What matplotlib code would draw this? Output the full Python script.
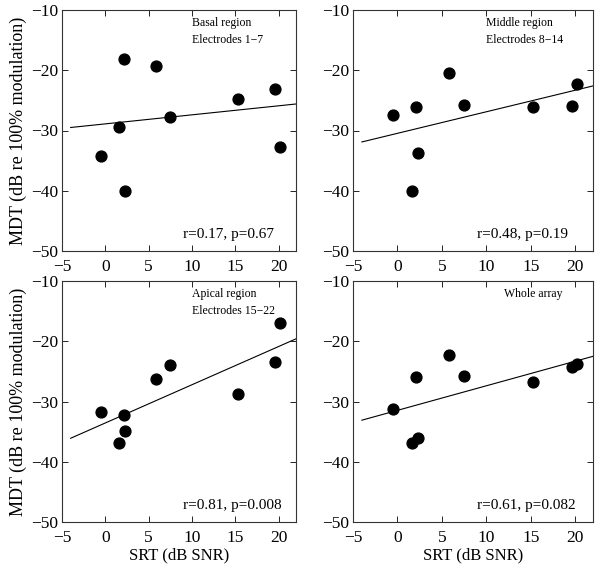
"""
MDT vs SRT scatter for four electrode regions, with linear fits.
"""
import matplotlib.pyplot as plt

plt.rcParams["font.family"] = ["Liberation Serif", "DejaVu Serif"]

# --- data ---
srt = [-0.5, 1.6, 2.1, 2.3, 5.8, 7.5, 15.3, 19.6, 20.2]

mdt_basal = [-34.2, -29.4, -18.2, -40.1, -19.3, -27.7, -24.8, -23.1, -32.7]
mdt_middle = [-27.5, -40.1, -26.1, -33.8, -20.4, -25.7, -26.1, -25.9, -22.2]
mdt_apical = [-31.8, -36.9, -32.3, -34.9, -26.3, -23.9, -28.8, -23.4, -17.0]
mdt_whole = [-31.2, -36.9, -25.9, -36.1, -22.3, -25.7, -26.7, -24.2, -23.7]

# fit lines: y at x=-4 and x=22
fit_x = [-4, 22]
fit_basal = [-29.5, -25.6]
fit_middle = [-31.9, -22.6]
fit_apical = [-36.1, -19.6]
fit_whole = [-33.1, -22.5]

titles = [["Basal region", "Electrodes 1\u22127"],
          ["Middle region", "Electrodes 8\u221214"],
          ["Apical region", "Electrodes 15\u221222"],
          ["Whole array"]]
stats = ["r=0.17, p=0.67", "r=0.48, p=0.19", "r=0.81, p=0.008", "r=0.61, p=0.082"]

panels = [(mdt_basal, fit_basal), (mdt_middle, fit_middle),
          (mdt_apical, fit_apical), (mdt_whole, fit_whole)]

W, H = 600, 569
fig = plt.figure(figsize=(W / 100, H / 100), dpi=100)
fig.patch.set_facecolor("white")

# axes boxes in pixels: left, top, right, bottom
boxes = [(62, 10, 296, 251), (353, 10, 593, 251),
         (62, 281, 296, 522), (353, 281, 593, 522)]

for i, ((l, t, r, b), (mdt, fit)) in enumerate(zip(boxes, panels)):
    ax = fig.add_axes([l / W, 1 - b / H, (r - l) / W, (b - t) / H])
    ax.plot(srt, mdt, "o", color="black", markersize=7.8)
    ax.plot(fit_x, fit, color="black", linewidth=0.8)
    ax.set_xlim(-5, 22)
    ax.set_ylim(-50, -10)
    ax.set_xticks([-5, 0, 5, 10, 15, 20])
    ax.set_yticks([-50, -40, -30, -20, -10])
    ax.tick_params(direction="in", length=4, width=0.6, labelsize=12.5,
                   top=True, right=True)
    ax.tick_params(axis="x", pad=6)
    ax.tick_params(axis="y", pad=3)
    for s in ax.spines.values():
        s.set_linewidth(0.8)
        s.set_color("#333333")

    tx = 12 if i == 3 else 10
    for k, line in enumerate(titles[i]):
        ax.text(tx, -12.1 - 2.9 * k, line, fontsize=8.5, ha="left", va="center")
    ax.text(9, -47.3, stats[i], fontsize=11, ha="left", va="center")

    if i % 2 == 0:
        ax.set_ylabel("MDT (dB re 100% modulation)", fontsize=13, labelpad=3)
    if i >= 2:
        ax.set_xlabel("SRT (dB SNR)", fontsize=12, labelpad=1)

plt.savefig("out.png", dpi=100)
